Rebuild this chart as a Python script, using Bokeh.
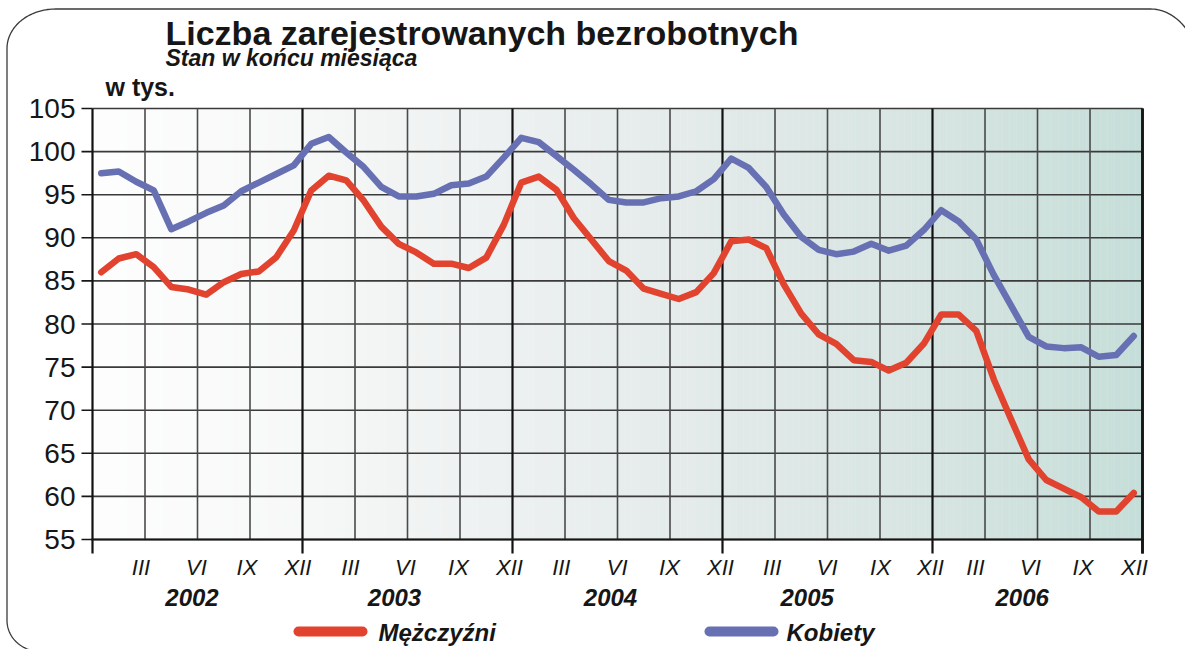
import numpy as np
from bokeh.plotting import figure
from bokeh.models import Range1d
from bokeh.core.properties import value
from bokeh.embed import file_html
from bokeh.resources import INLINE

# ---------------- data ----------------
title = "Liczba zarejestrowanych bezrobotnych"
subtitle = "Stan w końcu miesiąca"
unit_label = "w tys."
years = ["2002", "2003", "2004", "2005", "2006"]
month_marks = ["III", "VI", "IX", "XII"]
series_names = ["Mężczyźni", "Kobiety"]
y_ticks = [55, 60, 65, 70, 75, 80, 85, 90, 95, 100, 105]

men = [86.0, 87.6, 88.1, 86.6, 84.3, 84.0, 83.4, 84.85, 85.8, 86.1, 87.75, 90.85,
       95.5, 97.2, 96.65, 94.3, 91.3, 89.3, 88.3, 87.0, 87.0, 86.5, 87.7, 91.5,
       96.4, 97.1, 95.6, 92.3, 89.8, 87.3, 86.2, 84.1, 83.5, 82.9, 83.7, 85.9,
       89.6, 89.8, 88.8, 84.6, 81.2, 78.8, 77.7, 75.8, 75.6, 74.6, 75.5, 77.7,
       81.1, 81.1, 79.2, 73.6, 68.9, 64.3, 61.9, 60.9, 59.9, 58.25, 58.25, 60.4]
women = [97.5, 97.7, 96.5, 95.5, 91.0, 91.9, 92.9, 93.75, 95.4, 96.4, 97.4, 98.4,
         100.9, 101.7, 99.9, 98.2, 95.9, 94.8, 94.8, 95.1, 96.1, 96.3, 97.1, 99.3,
         101.6, 101.1, 99.5, 97.9, 96.2, 94.4, 94.1, 94.1, 94.6, 94.8, 95.4, 96.8,
         99.2, 98.1, 95.9, 92.7, 90.1, 88.6, 88.1, 88.4, 89.3, 88.5, 89.1, 90.9,
         93.2, 91.9, 89.8, 85.7, 82.1, 78.5, 77.4, 77.2, 77.3, 76.2, 76.4, 78.6]

n_months = len(men)
month_x = [i + 0.5 for i in range(n_months)]

# ---------------- geometry (pixels of the picture) ----------------
W, H = 1185, 649
FX0, FX1 = 92.0, 1142.0        # plot area left/right
FY0, FY1 = 108.0, 539.0        # plot area top/bottom
X0, X1 = 0, n_months
Y0, Y1 = 55, 105
SX = (FX1 - FX0) / (X1 - X0)
SY = (FY1 - FY0) / (Y1 - Y0)

def px2x(px):
    return X0 + (px - FX0) / SX

def px2y(py):
    return Y1 - (py - FY0) / SY

def cap_mid(baseline_px, size_px):
    # vertical centre of capitals for a given baseline (used with text_baseline="middle")
    return px2y(baseline_px - 0.358 * size_px)

FONT = "Liberation Sans"
INK = "#161616"
RED = "#e1432f"
BLUE = "#6770b2"

p = figure(width=W, height=H, x_range=Range1d(px2x(0), px2x(W)),
           y_range=Range1d(px2y(H), px2y(0)), x_axis_type=None, y_axis_type=None,
           toolbar_location=None, output_backend="svg",
           min_border_left=0, min_border_right=0, min_border_top=0, min_border_bottom=0)
p.outline_line_color = None
p.background_fill_color = "white"
p.border_fill_color = "white"
p.xgrid.visible = False
p.ygrid.visible = False

# background gradient inside the plot area
stops_f = [0.0, 0.2, 0.5, 0.8, 1.0]
stops_c = [(254, 254, 254), (247, 248, 248), (232, 237, 237), (215, 229, 226), (198, 222, 217)]
nstrip = 150
edges = np.linspace(X0, X1, nstrip + 1)
cols = []
for k in range(nstrip):
    f = (k + 0.5) / nstrip
    r = np.interp(f, stops_f, [c[0] for c in stops_c])
    g = np.interp(f, stops_f, [c[1] for c in stops_c])
    b = np.interp(f, stops_f, [c[2] for c in stops_c])
    cols.append("#%02x%02x%02x" % (int(r), int(g), int(b)))
p.quad(left=edges[:-1], right=edges[1:] + 0.02, bottom=Y0, top=Y1,
       fill_color=cols, line_color=None)

# horizontal grid lines
p.segment(x0=[X0] * len(y_ticks), x1=[X1] * len(y_ticks), y0=y_ticks, y1=y_ticks,
          line_color="#3a3a3a", line_width=1.6)
# quarter grid lines
qticks = [q for q in range(3, n_months, 3) if q % 12 != 0]
p.segment(x0=qticks, x1=qticks, y0=[Y0] * len(qticks), y1=[Y1] * len(qticks),
          line_color="#4a4a4a", line_width=1.6)
# year boundaries, extended below the axis as ticks
yb = list(range(0, n_months + 1, 12))
tick_bottom = px2y(FY1 + 14)
p.segment(x0=yb, x1=yb, y0=[tick_bottom] * len(yb), y1=[Y1] * len(yb),
          line_color="#111111", line_width=2.2)
# y-axis ticks
p.segment(x0=[px2x(FX0 - 11)] * len(y_ticks), x1=[X0] * len(y_ticks), y0=y_ticks, y1=y_ticks,
          line_color=INK, line_width=1.6)
# x-axis line
p.segment(x0=[px2x(FX0 - 1)], x1=[px2x(FX1 + 1)], y0=[Y0], y1=[Y0], line_color=INK, line_width=2.2)
# right border
p.segment(x0=[X1], x1=[X1], y0=[tick_bottom], y1=[Y1], line_color=INK, line_width=2.8)

# y tick labels
p.text(x=[px2x(75)] * len(y_ticks), y=y_ticks, text=[str(v) for v in y_ticks],
       text_align="right", text_baseline="middle", text_font=value(FONT),
       text_font_size="28px", text_color=INK)

# series
p.line(month_x, men, line_color=RED, line_width=6.5, line_join="round", line_cap="round")
p.line(month_x, women, line_color=BLUE, line_width=6.5, line_join="round", line_cap="round")

# month labels below axis (small hand offsets in px, as in the original)
month_shift_px = [-4, -1, -3, -4.5, -4.5, -2, -1.5, -3, -3.7, -0.3, -0.5, -2,
                  -2.8, -0.3, 0.5, -2, -9.5, -7, -7, -8]
mx, mt = [], []
for j, q in enumerate(range(3, n_months + 1, 3)):
    mx.append(q + month_shift_px[j] / SX)
    mt.append(month_marks[j % 4])
p.text(x=mx, y=[cap_mid(575, 22)] * len(mx), text=mt, text_align="center",
       text_baseline="middle", text_font=value(FONT), text_font_style="italic",
       text_font_size="22px", text_color=INK)

# year labels
year_shift_px = [-5.5, -13, -7, -20.3, -15.3]
yx = [12 * i + 6 + year_shift_px[i] / SX for i in range(len(years))]
p.text(x=yx, y=[cap_mid(606, 24)] * len(yx), text=years, text_align="center",
       text_baseline="middle", text_font=value(FONT), text_font_style="bold italic",
       text_font_size="24px", text_color=INK)

# titles
p.text(x=[px2x(165)], y=[cap_mid(45, 34)], text=[title], text_font=value(FONT),
       text_font_style="bold", text_font_size="34px", text_color=INK,
       text_baseline="middle")
p.text(x=[px2x(165)], y=[cap_mid(66, 23)], text=[subtitle], text_font=value(FONT),
       text_font_style="bold italic", text_font_size="23px", text_color=INK,
       text_baseline="middle")
p.text(x=[px2x(105)], y=[cap_mid(95, 25)], text=[unit_label], text_font=value(FONT),
       text_font_style="bold", text_font_size="25px", text_color=INK,
       text_baseline="middle")

# legend
leg_y = px2y(631)
p.segment(x0=[px2x(298)], x1=[px2x(362)], y0=[leg_y], y1=[leg_y], line_color=RED,
          line_width=10, line_cap="round")
p.segment(x0=[px2x(709)], x1=[px2x(773)], y0=[leg_y], y1=[leg_y], line_color=BLUE,
          line_width=10, line_cap="round")
p.text(x=[px2x(378), px2x(786)], y=[cap_mid(641, 24)] * 2, text=series_names,
       text_font=value(FONT), text_font_style="bold italic", text_font_size="24px",
       text_color=INK, text_baseline="middle")

# rounded outer border
def arc(cx, cy, rx, ry, a0, a1, n=40):
    t = np.linspace(np.radians(a0), np.radians(a1), n)
    return list(cx + rx * np.cos(t)), list(cy - ry * np.sin(t))

bx, by = [], []
ax_, ay_ = arc(40, 620, 33.5, 31, -90, -180)
bx += ax_; by += ay_
ax_, ay_ = arc(55, 48, 48.5, 39.5, 180, 90)
bx += ax_; by += ay_
ax_, ay_ = arc(1150, 75, 50, 66.5, 90, 0)
bx += ax_; by += ay_
p.line([px2x(v) for v in bx], [px2y(v) for v in by], line_color="#3a3a3a", line_width=1.3)

open("out.html", "w").write(file_html(p, INLINE))
